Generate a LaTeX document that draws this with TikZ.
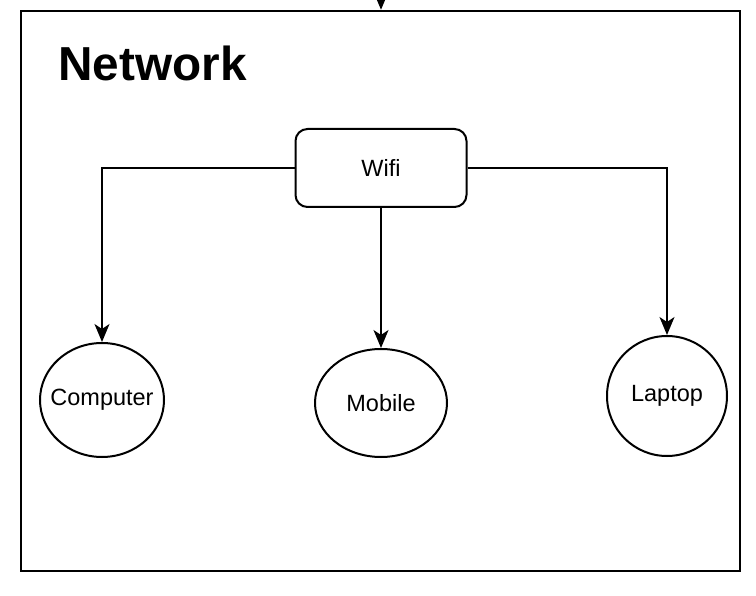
\documentclass[tikz,border=0pt]{standalone}
\usepackage{fontspec}
\setmainfont{Liberation Sans}
\usetikzlibrary{shapes,arrows.meta,positioning,calc}

\begin{document}
\begin{tikzpicture}[x=1pt,y=-1pt,line width=2pt,>={Stealth[length=18pt,width=15pt,inset=5pt]}]
    \tikzstyle{device}=[ellipse,draw,inner xsep=-14pt,inner ysep=0pt,font=\fontsize{23.5}{28}\selectfont]
    \tikzstyle{router}=[rectangle,draw,rounded corners=12pt,minimum width=171pt,minimum height=78pt,font=\fontsize{23.5}{28}\selectfont]
    \tikzstyle{link}=[->]

    \useasboundingbox (0,0) rectangle (756,596);

    % Draw the network frame and its title
    \node[draw,line width=2.5pt,minimum width=719pt,minimum height=560pt,inner sep=0pt] (net) at (380.5,291) {};
    \node[anchor=base west,inner sep=0pt,font=\fontsize{47.7}{52}\selectfont\bfseries] (title) at (57.5,81) {Network};

    % Draw the access point
    \node[router] (wifi) at (381,168) {Wifi};

    % Draw the devices
    \node[device,minimum width=124pt,minimum height=114pt] (computer) at (102,400) {Computer};
    \node[device,minimum width=132pt,minimum height=108pt] (mobile) at (381,403) {Mobile};
    \node[device,minimum width=120pt,minimum height=120pt] (laptop) at (667,396) {Laptop};

    % Incoming connection, cut by the page edge
    \coordinate (in) at (381,-30);
    \begin{scope}
        \clip (0,0) rectangle (756,596);
        \draw[link] (in) -- (net.north -| in);
    \end{scope}

    % Connect the access point with every device
    \draw[link] (wifi.west) -| (computer.north);
    \draw[link] (wifi.south) -- (mobile.north);
    \draw[link] (wifi.east) -| (laptop.north);
\end{tikzpicture}
\end{document}
